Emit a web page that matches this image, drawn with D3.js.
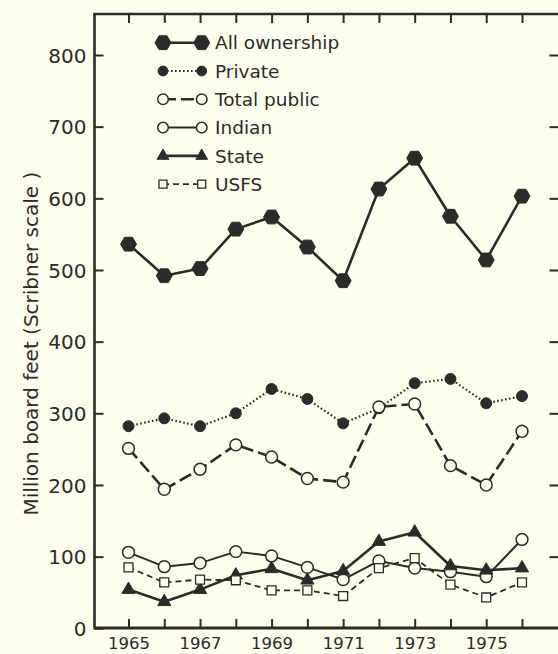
<!DOCTYPE html>
<html>
<head>
<meta charset="utf-8">
<script src="https://cdnjs.cloudflare.com/ajax/libs/d3/7.8.5/d3.min.js"></script>
<style>
  html, body { margin: 0; padding: 0; background: #fefeef; }
  svg { display: block; font-family: "DejaVu Sans", sans-serif; }
</style>
</head>
<body>
<div id="chart"></div>
<script>
// data (million board feet, Scribner scale)
const years = [1965, 1966, 1967, 1968, 1969, 1970, 1971, 1972, 1973, 1974, 1975, 1976];
const allOwnership = [536, 492, 502, 557, 574, 532, 485, 613, 656, 575, 514, 603];
const privateOwn = [282, 293, 282, 300, 334, 320, 286, 307, 342, 348, 314, 324];
const totalPublic = [251, 194, 222, 256, 239, 209, 204, 309, 313, 227, 200, 275];
const indian = [106, 86, 91, 107, 101, 85, 68, 94, 84, 79, 72, 124];
const state = [54, 37, 54, 74, 83, 67, 80, 121, 134, 87, 81, 84];
const usfs = [85, 64, 68, 67, 53, 53, 45, 84, 98, 61, 43, 64];

const xTickLabels = [1965, 1967, 1969, 1971, 1973, 1975];
const yTicks = [0, 100, 200, 300, 400, 500, 600, 700, 800];
const yTitle = "Million board feet (Scribner scale )";

const width = 558, height = 654;
const ink = "#2b2b2b";
const frame = { left: 94.5, right: 559.5, top: 14, bottom: 628 };

const x = d3.scaleLinear().domain([1965, 1976]).range([128.5, 522]);
const y = d3.scaleLinear().domain([0, 800]).range([628.3, 55]);

// flat-topped hexagon for the "All ownership" marks
const hexagon = {
  draw(context, size) {
    const r = Math.sqrt(size / 2.598);
    for (let i = 0; i < 6; i++) {
      const a = i * Math.PI / 3;
      if (i === 0) context.moveTo(r * Math.cos(a), r * Math.sin(a));
      else context.lineTo(r * Math.cos(a), r * Math.sin(a));
    }
    context.closePath();
  }
};

const series = [
  { name: "All ownership", values: allOwnership, line: { width: 2.6, dash: null },
    symbol: hexagon, size: 165, fill: ink, stroke: ink, sw: 1 },
  { name: "Private", values: privateOwn, line: { width: 2.2, dash: "1.6,2.4" },
    symbol: d3.symbolCircle, size: 95, fill: ink, stroke: ink, sw: 1 },
  { name: "Total public", values: totalPublic, line: { width: 2.6, dash: "13,5" },
    symbol: d3.symbolCircle, size: 110, fill: "#fefeef", stroke: ink, sw: 1.5 },
  { name: "Indian", values: indian, line: { width: 2, dash: null },
    symbol: d3.symbolCircle, size: 110, fill: "#fefeef", stroke: ink, sw: 1.5 },
  { name: "State", values: state, line: { width: 2.6, dash: null },
    symbol: d3.symbolTriangle, size: 75, fill: ink, stroke: ink, sw: 1 },
  { name: "USFS", values: usfs, line: { width: 1.8, dash: "6,4" },
    symbol: d3.symbolSquare, size: 80, fill: "#fefeef", stroke: ink, sw: 1.3 }
];

const svg = d3.select("#chart")
  .append("svg")
  .attr("width", width)
  .attr("height", height);

// axes: all ticks point inward
const bottomAxis = svg.append("g")
  .attr("transform", `translate(0,${frame.bottom})`)
  .call(d3.axisBottom(x).tickValues(years).tickSize(-9).tickSizeOuter(0).tickPadding(9)
    .tickFormat(d => xTickLabels.includes(d) ? d : ""));
const topAxis = svg.append("g")
  .attr("transform", `translate(0,${frame.top})`)
  .call(d3.axisTop(x).tickValues(years).tickSize(-9).tickSizeOuter(0).tickFormat(""));
const leftAxis = svg.append("g")
  .attr("transform", `translate(${frame.left},0)`)
  .call(d3.axisLeft(y).tickValues(yTicks).tickSize(-9).tickSizeOuter(0).tickPadding(8));
const rightAxis = svg.append("g")
  .attr("transform", `translate(${frame.right},0)`)
  .call(d3.axisRight(y).tickValues(yTicks.filter(d => d > 0)).tickSize(-10).tickSizeOuter(0).tickFormat(""));

[bottomAxis, topAxis, leftAxis, rightAxis].forEach(g => {
  g.select(".domain").remove();
  g.selectAll(".tick line").attr("stroke", ink).attr("stroke-width", 2);
  g.selectAll(".tick text").attr("fill", ink).attr("font-family", "DejaVu Sans");
});
bottomAxis.selectAll(".tick text").attr("font-size", 16.5);
leftAxis.selectAll(".tick text").attr("font-size", 20).attr("dy", "0.36em");

// frame
svg.append("path")
  .attr("d", `M${frame.left},${frame.bottom}V${frame.top}H${frame.right}`)
  .attr("fill", "none").attr("stroke", ink).attr("stroke-width", 2.6);
svg.append("line")
  .attr("x1", frame.left - 1).attr("x2", frame.right)
  .attr("y1", frame.bottom).attr("y2", frame.bottom)
  .attr("stroke", ink).attr("stroke-width", 3);
svg.append("line")
  .attr("x1", frame.right).attr("x2", frame.right)
  .attr("y1", frame.top).attr("y2", frame.bottom)
  .attr("stroke", ink).attr("stroke-width", 2.6);

// y title
svg.append("text")
  .attr("transform", `translate(38,${(y(0) + y(800)) / 2 + 2}) rotate(-90)`)
  .attr("text-anchor", "middle")
  .attr("font-size", 20)
  .attr("fill", ink)
  .text(yTitle);

// lines
const line = d3.line()
  .x((d, i) => x(years[i]))
  .y(d => y(d));

svg.append("g").selectAll("path")
  .data(series)
  .enter()
  .append("path")
  .attr("d", d => line(d.values))
  .attr("fill", "none")
  .attr("stroke", ink)
  .attr("stroke-width", d => d.line.width)
  .attr("stroke-dasharray", d => d.line.dash)
  .attr("stroke-linejoin", "round");

// markers
series.forEach(s => {
  svg.append("g").selectAll("path")
    .data(s.values)
    .enter()
    .append("path")
    .attr("transform", (d, i) => `translate(${x(years[i])},${y(d)})`)
    .attr("d", d3.symbol().type(s.symbol).size(s.size))
    .attr("fill", s.fill)
    .attr("stroke", s.stroke)
    .attr("stroke-width", s.sw);
});

// legend
const legend = svg.append("g")
  .attr("transform", "translate(163,42.7)");
const rows = legend.selectAll("g")
  .data(series)
  .enter()
  .append("g")
  .attr("transform", (d, i) => `translate(0,${i * 28.3})`);

rows.append("line")
  .attr("x1", 0).attr("x2", 38.7)
  .attr("stroke", ink)
  .attr("stroke-width", d => d.line.width)
  .attr("stroke-dasharray", d => d.line.dash);

rows.each(function(s) {
  d3.select(this).selectAll("path")
    .data([0, 38.7])
    .enter()
    .append("path")
    .attr("transform", d => `translate(${d},0)`)
    .attr("d", d3.symbol().type(s.symbol).size(s.symbol === hexagon ? 165 : s.size * 0.8))
    .attr("fill", s.fill)
    .attr("stroke", s.stroke)
    .attr("stroke-width", s.sw);
});

rows.append("text")
  .attr("x", 52)
  .attr("dy", "0.36em")
  .attr("font-size", 18.5)
  .attr("fill", ink)
  .text(d => d.name);
</script>
</body>
</html>
